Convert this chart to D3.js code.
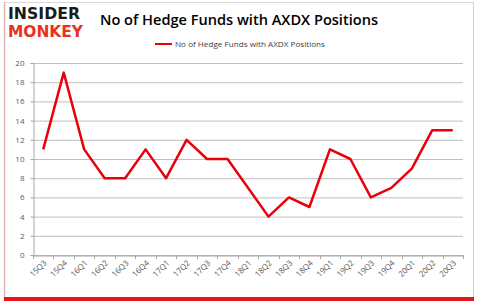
<!DOCTYPE html>
<html><head><meta charset="utf-8">
<script src="https://cdn.jsdelivr.net/npm/d3@7"></script>
<style>body{margin:0;background:#fff}svg{display:block}</style>
</head><body>
<svg id="c" width="479" height="305"></svg>
<script>
const quarters = ["15Q3","15Q4","16Q1","16Q2","16Q3","16Q4","17Q1","17Q2","17Q3","17Q4","18Q1","18Q2","18Q3","18Q4","19Q1","19Q2","19Q3","19Q4","20Q1","20Q2","20Q3"];
const funds = [11,19,11,8,8,11,8,12,10,10,7,4,6,5,11,10,6,7,9,13,13];
const yTicks = [0,2,4,6,8,10,12,14,16,18,20];
const titleText = "No of Hedge Funds with AXDX Positions";
const legendText = "No of Hedge Funds with  AXDX Positions";

const svg = d3.select("#c");
// frame
svg.append("rect").attr("x",4.5).attr("y",2.5).attr("width",469).attr("height",296)
  .attr("fill","#fff").attr("stroke","#d9d9d9");
svg.append("line").attr("x1",4.5).attr("x2",4.5).attr("y1",2).attr("y2",299).attr("stroke","#e3b5b5").attr("stroke-width",1.5);
svg.append("line").attr("x1",473.5).attr("x2",473.5).attr("y1",2).attr("y2",299).attr("stroke","#e8c4c4").attr("stroke-width",1);
svg.append("rect").attr("x",4).attr("y",297).attr("width",470).attr("height",4).attr("fill","#e8141b");

// logo
svg.append("text").attr("x",8).attr("y",19).text("INSIDER")
  .attr("font-family","DejaVu Sans").attr("font-weight","bold").attr("font-size",15)
  .attr("textLength",72).attr("lengthAdjust","spacingAndGlyphs").attr("fill","#1a1a1a");
svg.append("text").attr("x",8).attr("y",37).text("MONKEY")
  .attr("font-family","DejaVu Sans").attr("font-weight","bold").attr("font-size",15)
  .attr("textLength",75).attr("lengthAdjust","spacingAndGlyphs").attr("fill","#e8321b");

// title
svg.append("text").attr("x",100).attr("y",25).text(titleText)
  .attr("font-family","Open Sans").attr("font-weight",600).attr("font-size",15)
  .attr("textLength",278).attr("lengthAdjust","spacingAndGlyphs").attr("fill","#000");

// legend
svg.append("line").attr("x1",155).attr("x2",172).attr("y1",44).attr("y2",44).attr("stroke","#e00").attr("stroke-width",2);
svg.append("text").attr("x",175).attr("y",47).text(legendText)
  .attr("font-family","Open Sans").attr("font-size",8).attr("fill","#404040")
  .attr("textLength",150).attr("lengthAdjust","spacingAndGlyphs");

const L=33, R=463, T=63, B=255;
const x = d3.scaleBand().domain(quarters).range([L,R]);
const y = d3.scaleLinear().domain([0,20]).range([B,T]);

// gridlines
svg.append("g").selectAll("line").data(yTicks).join("line")
  .attr("x1",L).attr("x2",R).attr("y1",d=>y(d)+0.5).attr("y2",d=>y(d)+0.5)
  .attr("stroke","#bfbfbf").attr("stroke-width",1);

// y axis
const ya = svg.append("g").attr("transform",`translate(${L+0.5},0)`)
  .call(d3.axisLeft(y).tickValues(yTicks).tickSize(3).tickPadding(6));
ya.select(".domain").attr("stroke","#a6a6a6");
ya.selectAll(".tick line").attr("stroke","#a6a6a6");
ya.selectAll("text").attr("font-family","Open Sans").attr("font-size",8).attr("fill","#595959");

// x axis
const xa = svg.append("g").attr("transform",`translate(0,${B+0.5})`)
  .call(d3.axisBottom(x).tickSize(0).tickPadding(0));
xa.select(".domain").attr("stroke","#a6a6a6");
xa.selectAll(".tick text")
  .attr("font-family","Open Sans").attr("font-size",8).attr("fill","#595959")
  .attr("text-anchor","end").attr("dy","0")
  .attr("transform","translate(4,8) rotate(-45)");
// tick marks at category boundaries
const bounds = quarters.map(q=>x(q)).concat([R]);
svg.append("g").selectAll("line").data(bounds).join("line")
  .attr("x1",d=>Math.round(d)+0.5).attr("x2",d=>Math.round(d)+0.5)
  .attr("y1",B).attr("y2",B+4).attr("stroke","#a6a6a6");

// line
const line = d3.line().x((d,i)=>x(quarters[i])+x.bandwidth()/2).y(d=>y(d));
svg.append("path").datum(funds).attr("d",line)
  .attr("fill","none").attr("stroke","#e8000b").attr("stroke-width",2.5)
  .attr("stroke-linejoin","round");
</script>
</body></html>
